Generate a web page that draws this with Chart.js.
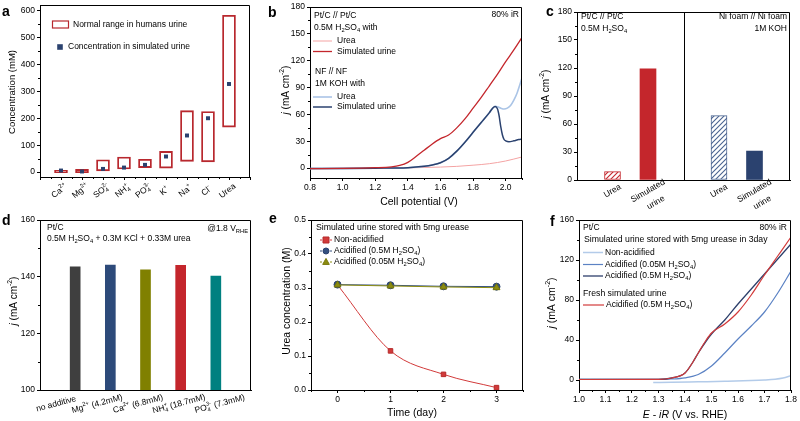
<!DOCTYPE html>
<html>
<head>
<meta charset="utf-8">
<title>Urine electrolysis panels</title>
<script src="https://cdn.jsdelivr.net/npm/chart.js@4.4.1/dist/chart.umd.min.js"></script>
<style>
  body { margin: 0; background: #fff; }
  #fig { position: relative; width: 800px; height: 421px; overflow: hidden; background: #fff; }
  #fig canvas { position: absolute; }
</style>
</head>
<body>
<div id="fig">
  <canvas id="pa" width="265" height="212" style="left:0;top:0"></canvas>
  <canvas id="pb" width="265" height="212" style="left:265px;top:0"></canvas>
  <canvas id="pc" width="270" height="218" style="left:530px;top:0"></canvas>
  <canvas id="pd" width="265" height="216" style="left:0;top:205px"></canvas>
  <canvas id="pe" width="265" height="216" style="left:265px;top:205px"></canvas>
  <canvas id="pf" width="270" height="216" style="left:530px;top:205px"></canvas>
</div>
<script>
// ---- data ----
// a: normal range vs simulated urine (mM)
var aLabels = ['Ca^{2+}', 'Mg^{2+}', 'SO_{4}^{2-}', 'NH_{4}^{+}', 'PO_{4}^{3-}', 'K^{+}', 'Na^{+}', 'Cl^{-}', 'Urea'];
var aRangeLow = [-2, -2, 5, 12, 17, 15, 40, 38, 167];
var aRangeHigh = [7, 10, 46, 56, 48, 77, 228, 225, 582];
var aSimulated = [6, 2.5, 12, 17, 27, 58, 136, 200, 327];

// b: cell polarisation curves
var bAcidUreaX = [0.8, 1.0, 1.2, 1.4, 1.6, 1.7, 1.8, 1.9, 2.0, 2.1];
var bAcidUrea = [-0.5, -0.3, 0, 0.3, 1.2, 2, 3.3, 5, 8, 12.5];
var bAcidSimX = [0.8, 1.0, 1.2, 1.3, 1.35, 1.4, 1.45, 1.5, 1.55, 1.6, 1.65, 1.7, 1.75, 1.8, 1.85, 1.9, 1.95, 2.0, 2.05, 2.1];
var bAcidSim = [-0.5, -0.3, 0.5, 1.5, 3, 6.5, 13, 20, 27, 33, 37, 45, 55, 67, 79, 92, 105, 119, 132, 146];
var bAlkUreaX = [0.8, 1.0, 1.2, 1.4, 1.5, 1.55, 1.6, 1.65, 1.7, 1.75, 1.8, 1.85, 1.9, 1.92, 1.935, 1.95, 1.97, 1.99, 2.01, 2.03, 2.05, 2.07, 2.09, 2.1];
var bAlkUrea = [-0.5, -0.3, 0, 0.5, 2, 3.5, 6, 11, 19, 29, 40, 51, 62, 67, 69, 68.5, 67, 66, 67, 70, 76, 84, 95, 101];
var bAlkSimX = [0.8, 1.0, 1.2, 1.4, 1.5, 1.55, 1.6, 1.65, 1.7, 1.75, 1.8, 1.85, 1.9, 1.92, 1.935, 1.95, 1.96, 1.97, 1.98, 1.99, 2.0, 2.02, 2.05, 2.08, 2.1];
var bAlkSim = [-0.5, -0.3, 0, 0.5, 2, 3.5, 6, 11, 19, 29, 40, 51, 62, 67, 69, 66, 58, 46, 37, 32, 30.5, 29.5, 30.5, 32, 32.5];

// c: current at fixed cell voltage
var cLabels = ['Urea', 'Simulated\nurine', 'Urea', 'Simulated\nurine'];
var cValues = [9, 119, 69, 31];

// d: effect of additives at 1.8 V RHE
var dLabels = ['no additive', 'Mg^{2+} (4.2mM)', 'Ca^{2+} (6.8mM)', 'NH_{4}^{+} (18.7mM)', 'PO_{4}^{3-} (7.3mM)'];
var dValues = [143.5, 144.1, 142.4, 144.0, 140.2];

// e: urea concentration during storage
var eDays = [0, 1, 2, 3];
var eNonAcid = [0.309, 0.115, 0.046, 0.007];
var eAcid05 = [0.310, 0.308, 0.305, 0.304];
var eAcid005 = [0.309, 0.306, 0.303, 0.301];

// f: LSV after 3 days storage
var fNonX = [1.28, 1.35, 1.45, 1.55, 1.65, 1.7, 1.74, 1.77, 1.8];
var fNon = [-2.6, -2.3, -1.8, -1.3, -0.6, 0, 0.8, 2, 4.2];
var fAcid005X = [1.0, 1.3, 1.35, 1.4, 1.45, 1.5, 1.55, 1.6, 1.65, 1.7, 1.75, 1.8];
var fAcid005 = [0.7, 0.7, 1, 2.2, 5.5, 14, 27, 41, 54, 68, 87, 109];
var fAcid05X = [1.0, 1.3, 1.35, 1.4, 1.43, 1.45, 1.48, 1.5, 1.55, 1.6, 1.65, 1.7, 1.75, 1.8];
var fAcid05 = [0.7, 0.7, 2, 7, 18, 27, 39, 46, 60, 76, 91, 106, 121, 136];
var fFreshX = [1.0, 1.3, 1.35, 1.4, 1.43, 1.45, 1.48, 1.5, 1.55, 1.6, 1.65, 1.7, 1.75, 1.8];
var fFresh = [0.5, 0.6, 2, 7, 18, 27, 40, 47, 56, 68, 85, 105, 124, 143];

// ---- setup ----
var FONT = '"Liberation Sans", Arial, Helvetica, sans-serif';
Chart.defaults.font.family = FONT;
Chart.defaults.font.size = 8.5;
Chart.defaults.color = '#000';
Chart.defaults.animation = false;
Chart.defaults.plugins.legend.display = false;
Chart.defaults.plugins.tooltip.enabled = false;

var RED = '#c4262c', LRED = '#f4a3a3', NAVY = '#2b426f', LBLUE = '#aac4e6', MBLUE = '#5b82c4';

function pts(xs, ys) { return xs.map(function (x, i) { return { x: x, y: ys[i] }; }); }
function fix1(v) { return (+v).toFixed(1); }

// text with _{sub}, ^{sup}, ~{italic}
function drawRich(ctx, str, x, y, size, align) {
  var parts = [], re = /([_^~])\{([^}]*)\}/g, last = 0, m;
  while ((m = re.exec(str))) {
    if (m.index > last) parts.push({ t: str.slice(last, m.index), k: '' });
    parts.push({ t: m[2], k: m[1] });
    last = re.lastIndex;
  }
  if (last < str.length) parts.push({ t: str.slice(last), k: '' });
  function font(k) {
    var small = k === '_' || k === '^';
    return (k === '~' ? 'italic ' : '') + (small ? size * 0.68 : size) + 'px ' + FONT;
  }
  var w = 0, prev = null;
  parts.forEach(function (p) {
    ctx.font = font(p.k);
    p.w = ctx.measureText(p.t).width;
    if (p.k === '^' && prev && prev.k === '_') { p.stack = true; w += Math.max(0, p.w - prev.w); }
    else w += p.w;
    prev = p;
  });
  var cx = align === 'center' ? x - w / 2 : align === 'right' ? x - w : x;
  ctx.textAlign = 'left';
  ctx.textBaseline = 'middle';
  prev = null;
  parts.forEach(function (p) {
    ctx.font = font(p.k);
    var dy = p.k === '_' ? size * 0.32 : p.k === '^' ? -size * 0.36 : 0;
    if (p.stack) {
      cx -= prev.w;
      ctx.fillText(p.t, cx, y + dy);
      cx += Math.max(p.w, prev.w);
    } else {
      ctx.fillText(p.t, cx, y + dy);
      cx += p.w;
    }
    prev = p;
  });
}

function marker(ctx, style, x, y, r, fill, stroke) {
  ctx.beginPath();
  if (style === 'rect') ctx.rect(x - r, y - r, 2 * r, 2 * r);
  else if (style === 'triangle') { ctx.moveTo(x, y - r * 1.2); ctx.lineTo(x + r * 1.1, y + r * 0.8); ctx.lineTo(x - r * 1.1, y + r * 0.8); ctx.closePath(); }
  else ctx.arc(x, y, r, 0, Math.PI * 2);
  ctx.fillStyle = fill;
  ctx.fill();
  if (stroke) { ctx.strokeStyle = stroke; ctx.lineWidth = 1; ctx.stroke(); }
}

function minor(ctx, scale, step, len) {
  var majors = scale.ticks.map(function (t) { return t.value; });
  var start = Math.ceil(scale.min / step - 1e-9) * step;
  ctx.beginPath();
  for (var v = start; v <= scale.max + 1e-9; v += step) {
    if (majors.some(function (mv) { return Math.abs(mv - v) < step * 1e-3; })) continue;
    var p = Math.round(scale.getPixelForValue(v)) + 0.5;
    if (scale.isHorizontal()) { ctx.moveTo(p, scale.top); ctx.lineTo(p, scale.top + len); }
    else { ctx.moveTo(scale.right, p); ctx.lineTo(scale.right - len, p); }
  }
  ctx.stroke();
}

// frame, minor ticks, texts, legends, panel letter
function deco(cfg) {
  return {
    id: 'deco',
    afterDraw: function (chart) {
      var ctx = chart.ctx, A = chart.chartArea, xs = chart.scales.x, ys = chart.scales.y;
      ctx.save();
      ctx.strokeStyle = '#000';
      ctx.lineWidth = 1;
      var t = Math.round(A.top) + 0.5, r = Math.round(A.right) - 0.5;
      ctx.beginPath(); ctx.moveTo(A.left, t); ctx.lineTo(r, t); ctx.lineTo(r, A.bottom); ctx.stroke();
      if (cfg.minorX) minor(ctx, xs, cfg.minorX, 2);
      if (cfg.minorY) minor(ctx, ys, cfg.minorY, 2);
      (cfg.dividers || []).forEach(function (v) {
        var p = Math.round(xs.getPixelForValue(v)) + 0.5;
        ctx.beginPath(); ctx.moveTo(p, A.top); ctx.lineTo(p, A.bottom); ctx.stroke();
      });
      ctx.fillStyle = '#000';
      if (cfg.xLabels) {
        var L = cfg.xLabels;
        chart.data.labels.forEach(function (lab, i) {
          if (!lab) return;
          var px = xs.getPixelForValue(i) + (L.dx ? L.dx(i) : 0);
          ctx.save();
          ctx.translate(px, A.bottom + L.dy);
          ctx.rotate(-L.rot * Math.PI / 180);
          lab.split('\n').forEach(function (line, j) {
            ctx.fillStyle = '#000';
            drawRich(ctx, line, (j ? L.lineDx || 0 : 0), j * (L.lineH || 12), L.size, 'center');
          });
          ctx.restore();
        });
      }
      if (cfg.yTitle) {
        ctx.save();
        ctx.translate(cfg.yTitle.x, cfg.yTitle.y);
        ctx.rotate(-Math.PI / 2);
        ctx.fillStyle = '#000';
        drawRich(ctx, cfg.yTitle.t, 0, 0, cfg.yTitle.size, 'center');
        ctx.restore();
      }
      if (cfg.xTitle) {
        ctx.fillStyle = '#000';
        drawRich(ctx, cfg.xTitle.t, cfg.xTitle.x, cfg.xTitle.y, cfg.xTitle.size, 'center');
      }
      (cfg.texts || []).forEach(function (s) {
        ctx.fillStyle = '#000';
        drawRich(ctx, s.t, s.x, s.y, s.size || 8.5, s.align || 'left');
      });
      (cfg.legend || []).forEach(function (it) {
        var ds = chart.data.datasets[it.ds];
        if (it.kind === 'box') {
          ctx.strokeStyle = ds.borderColor; ctx.lineWidth = 1.2;
          ctx.strokeRect(it.x1 + 0.5, it.y - 3.5, it.x2 - it.x1, 7);
        } else if (it.kind === 'dot') {
          marker(ctx, ds.pointStyle, (it.x1 + it.x2) / 2, it.y, ds.pointRadius, ds.backgroundColor);
        } else {
          ctx.strokeStyle = ds.borderColor;
          ctx.lineWidth = ds.borderWidth || 1;
          var mx = (it.x1 + it.x2) / 2;
          ctx.beginPath();
          if (it.marker) {
            ctx.moveTo(it.x1, it.y); ctx.lineTo(mx - 4, it.y);
            ctx.moveTo(mx + 4, it.y); ctx.lineTo(it.x2, it.y);
          } else { ctx.moveTo(it.x1, it.y); ctx.lineTo(it.x2, it.y); }
          ctx.stroke();
          if (it.marker) marker(ctx, ds.pointStyle, mx, it.y, 3, ds.backgroundColor, ds.pointBorderColor);
        }
        ctx.fillStyle = '#000';
        drawRich(ctx, ds.label, it.tx, it.y, it.size || 8.5, 'left');
      });
      if (cfg.letter) {
        ctx.font = 'bold 14px ' + FONT;
        ctx.textAlign = 'left';
        ctx.textBaseline = 'alphabetic';
        ctx.fillStyle = '#000';
        ctx.fillText(cfg.letter.t, cfg.letter.x, cfg.letter.y);
      }
      ctx.restore();
    }
  };
}

function yLin(min, max, step, width, fmt) {
  return {
    type: 'linear', min: min, max: max,
    border: { color: '#000', width: 1 },
    grid: { drawOnChartArea: false, tickLength: 3, color: '#000' },
    ticks: { stepSize: step, includeBounds: false, padding: 2, callback: fmt || function (v) { return v; } },
    afterFit: function (s) { s.width = width; s.paddingTop = 0; s.paddingBottom = 0; }
  };
}
function xLin(min, max, step, height, fmt, tickValues) {
  var sc = {
    type: 'linear', min: min, max: max,
    border: { color: '#000', width: 1 },
    grid: { drawOnChartArea: false, tickLength: 3, color: '#000' },
    ticks: { stepSize: step, includeBounds: false, padding: 2, maxRotation: 0, autoSkip: false, callback: fmt || function (v) { return v; } },
    afterFit: function (s) { s.height = height; s.paddingLeft = 0; s.paddingRight = 0; }
  };
  if (tickValues) {
    sc.afterBuildTicks = function (s) { s.ticks = tickValues.map(function (v) { return { value: v }; }); };
  }
  return sc;
}
function xCat(height, drawTicks) {
  return {
    type: 'category', offset: false,
    border: { color: '#000', width: 1 },
    grid: { offset: false, drawOnChartArea: false, drawTicks: drawTicks, tickLength: 3, color: '#000' },
    ticks: { display: false, autoSkip: false },
    afterFit: function (s) { s.height = height; s.paddingLeft = 0; s.paddingRight = 0; }
  };
}
function hatch(color) {
  var c = document.createElement('canvas');
  c.width = 5; c.height = 5;
  var g = c.getContext('2d');
  g.fillStyle = '#fff'; g.fillRect(0, 0, 5, 5);
  g.strokeStyle = color; g.lineWidth = 1.1;
  g.beginPath();
  g.moveTo(0, 5); g.lineTo(5, 0);
  g.moveTo(-1, 1); g.lineTo(1, -1);
  g.moveTo(4, 6); g.lineTo(6, 4);
  g.stroke();
  return g.createPattern(c, 'repeat');
}

// ---- panel a ----
var aFull = [''].concat(aLabels, ['']);
new Chart(document.getElementById('pa'), {
  type: 'bar',
  data: {
    labels: aFull,
    datasets: [{
      label: 'Normal range in humans urine',
      data: [null].concat(aRangeLow.map(function (l, i) { return [l, aRangeHigh[i]]; }), [null]),
      backgroundColor: 'rgba(255,255,255,0)', borderColor: '#b8282e', borderWidth: 1.2,
      borderSkipped: false, barThickness: 13, grouped: false, order: 2
    }, {
      type: 'line', label: 'Concentration in simulated urine',
      data: [null].concat(aSimulated, [null]),
      showLine: false, pointStyle: 'rect', pointRadius: 2.8, backgroundColor: NAVY,
      borderColor: NAVY, pointBorderWidth: 0, order: 1
    }]
  },
  options: {
    responsive: false,
    layout: { padding: { top: 5, right: 15, left: 0, bottom: 0 } },
    scales: { x: xCat(35, true), y: yLin(-18, 620, 100, 40) }
  },
  plugins: [deco({
    minorY: 50, minorX: 0.5,
    xLabels: { rot: 38, dy: 14, size: 8.5, dx: function () { return -1.5; } },
    yTitle: { t: 'Concentration (mM)', x: 12, y: 92, size: 9.5 },
    legend: [
      { ds: 0, kind: 'box', x1: 52, x2: 68, y: 24.5, tx: 73 },
      { ds: 1, kind: 'dot', x1: 57, x2: 63, y: 47, tx: 68 }
    ],
    letter: { t: 'a', x: 2, y: 16 }
  })]
});

// ---- panel b ----
new Chart(document.getElementById('pb'), {
  type: 'line',
  data: {
    datasets: [
      { label: 'Urea', data: pts(bAcidUreaX, bAcidUrea), borderColor: LRED, borderWidth: 1, order: 4 },
      { label: 'Simulated urine', data: pts(bAcidSimX, bAcidSim), borderColor: RED, borderWidth: 1.3, order: 1 },
      { label: 'Urea', data: pts(bAlkUreaX, bAlkUrea), borderColor: LBLUE, borderWidth: 1.6, order: 3 },
      { label: 'Simulated urine', data: pts(bAlkSimX, bAlkSim), borderColor: NAVY, borderWidth: 1.5, order: 2 }
    ]
  },
  options: {
    responsive: false,
    elements: { point: { radius: 0 }, line: { cubicInterpolationMode: 'monotone' } },
    layout: { padding: { top: 7, right: 8, left: 0, bottom: 0 } },
    scales: { x: xLin(0.8, 2.1, 0.2, 34, fix1), y: yLin(-11, 180, 30, 45) }
  },
  plugins: [deco({
    minorX: 0.1, minorY: 15,
    yTitle: { t: '~{j} (mA cm^{-2})', x: 21, y: 90, size: 10 },
    xTitle: { t: 'Cell potential (V)', x: 154, y: 202, size: 10.5 },
    texts: [
      { t: 'Pt/C // Pt/C', x: 49, y: 16 },
      { t: '0.5M H_{2}SO_{4} with', x: 49, y: 28 },
      { t: 'NF // NF', x: 50, y: 72 },
      { t: '1M KOH with', x: 50, y: 83.5 },
      { t: '80% iR', x: 254, y: 15, align: 'right' }
    ],
    legend: [
      { ds: 0, x1: 48, x2: 67, y: 41, tx: 72 },
      { ds: 1, x1: 48, x2: 67, y: 51.5, tx: 72 },
      { ds: 2, x1: 48, x2: 67, y: 97, tx: 72 },
      { ds: 3, x1: 48, x2: 67, y: 107, tx: 72 }
    ],
    letter: { t: 'b', x: 3, y: 17 }
  })]
});

// ---- panel c ----
var cFull = ['', cLabels[0], cLabels[1], '', cLabels[2], cLabels[3], ''];
var hatchRed = hatch(RED), hatchNavy = hatch('#4a6390');
new Chart(document.getElementById('pc'), {
  type: 'bar',
  data: {
    labels: cFull,
    datasets: [{
      label: 'j',
      data: [null, cValues[0], cValues[1], null, cValues[2], cValues[3], null],
      backgroundColor: [null, hatchRed, RED, null, hatchNavy, NAVY, null],
      borderColor: [null, RED, RED, null, '#4a6390', NAVY, null],
      borderWidth: [0, 1, 0, 0, 1, 0, 0],
      borderSkipped: false, barThickness: 16
    }]
  },
  options: {
    responsive: false,
    layout: { padding: { top: 12, right: 10, left: 0, bottom: 0 } },
    scales: { x: xCat(38, false), y: yLin(0, 180, 30, 47) }
  },
  plugins: [deco({
    minorY: 15, dividers: [3],
    xLabels: { rot: 30, dy: 11, size: 8.5, lineH: 14, lineDx: 1 },
    yTitle: { t: '~{j} (mA cm^{-2})', x: 16, y: 94, size: 10 },
    texts: [
      { t: 'Pt/C // Pt/C', x: 51, y: 17 },
      { t: '0.5M H_{2}SO_{4}', x: 51, y: 29 },
      { t: 'Ni foam // Ni foam', x: 257, y: 17, align: 'right' },
      { t: '1M KOH', x: 257, y: 29, align: 'right' }
    ],
    letter: { t: 'c', x: 16, y: 16 }
  })]
});

// ---- panel d ----
var dColors = ['#3f3f3f', '#2d4a7a', '#808000', RED, '#008080'];
new Chart(document.getElementById('pd'), {
  type: 'bar',
  data: {
    labels: [''].concat(dLabels, ['']),
    datasets: [{
      label: 'j',
      data: [null].concat(dValues, [null]),
      backgroundColor: [null].concat(dColors, [null]),
      barThickness: 10
    }]
  },
  options: {
    responsive: false,
    layout: { padding: { top: 15, right: 14, left: 0, bottom: 0 } },
    scales: { x: xCat(31, false), y: yLin(100, 160, 20, 40) }
  },
  plugins: [deco({
    minorY: 10,
    xLabels: { rot: 15, dy: 14, size: 8.5, dx: function (i) { return -19 + 5.75 * (i - 1); } },
    yTitle: { t: '~{j} (mA cm^{-2})', x: 14, y: 96, size: 10 },
    texts: [
      { t: 'Pt/C', x: 47, y: 23 },
      { t: '0.5M H_{2}SO_{4} + 0.3M KCl + 0.33M urea', x: 47, y: 33.5 },
      { t: '@1.8 V_{RHE}', x: 248, y: 24, align: 'right' }
    ],
    letter: { t: 'd', x: 2, y: 20 }
  })]
});

// ---- panel e ----
new Chart(document.getElementById('pe'), {
  type: 'line',
  data: {
    datasets: [
      { label: 'Non-acidified', data: pts(eDays, eNonAcid), borderColor: '#d23a3a', backgroundColor: '#d23a3a',
        pointBorderColor: '#b52a2a', pointStyle: 'rect', pointRadius: 3.2, borderWidth: 1,
        cubicInterpolationMode: 'monotone', order: 3 },
      { label: 'Acidified (0.5M H_{2}SO_{4})', data: pts(eDays, eAcid05), borderColor: '#34507f', backgroundColor: '#34507f',
        pointBorderColor: '#2b426f', pointStyle: 'circle', pointRadius: 3.5, borderWidth: 1, order: 2 },
      { label: 'Acidified (0.05M H_{2}SO_{4})', data: pts(eDays, eAcid005), borderColor: '#8c8c10', backgroundColor: '#8c8c10',
        pointBorderColor: '#77770a', pointStyle: 'triangle', pointRadius: 4, borderWidth: 1, order: 1 }
    ]
  },
  options: {
    responsive: false,
    layout: { padding: { top: 15, right: 7, left: 0, bottom: 0 } },
    scales: { x: xLin(-0.5, 3.5, 1, 31, null, eDays), y: yLin(0, 0.5, 0.1, 46, fix1) }
  },
  plugins: [deco({
    minorX: 0.5, minorY: 0.05,
    yTitle: { t: 'Urea concentration (M)', x: 22, y: 96, size: 10.5 },
    xTitle: { t: 'Time (day)', x: 147, y: 208, size: 10.5 },
    texts: [{ t: 'Simulated urine stored with 5mg urease', x: 51, y: 23, size: 8.7 }],
    legend: [
      { ds: 0, x1: 55, x2: 67, y: 35, tx: 69, marker: true },
      { ds: 1, x1: 55, x2: 67, y: 46, tx: 69, marker: true },
      { ds: 2, x1: 55, x2: 67, y: 57, tx: 69, marker: true }
    ],
    letter: { t: 'e', x: 4, y: 18 }
  })]
});

// ---- panel f ----
new Chart(document.getElementById('pf'), {
  type: 'line',
  data: {
    datasets: [
      { label: 'Non-acidified', data: pts(fNonX, fNon), borderColor: '#b3cbe9', borderWidth: 1.5, order: 4 },
      { label: 'Acidified (0.05M H_{2}SO_{4})', data: pts(fAcid005X, fAcid005), borderColor: MBLUE, borderWidth: 1.2, order: 3 },
      { label: 'Acidified (0.5M H_{2}SO_{4})', data: pts(fAcid05X, fAcid05), borderColor: '#2d3f6b', borderWidth: 1.3, order: 2 },
      { label: 'Acidified (0.5M H_{2}SO_{4})', data: pts(fFreshX, fFresh), borderColor: '#d23a3a', borderWidth: 1.2, order: 1 }
    ]
  },
  options: {
    responsive: false,
    elements: { point: { radius: 0 }, line: { cubicInterpolationMode: 'monotone' } },
    layout: { padding: { top: 15, right: 9, left: 0, bottom: 0 } },
    scales: { x: xLin(1.0, 1.8, 0.1, 31, fix1), y: yLin(-10, 160, 40, 49) }
  },
  plugins: [deco({
    minorX: 0.05, minorY: 20,
    yTitle: { t: '~{j} (mA cm^{-2})', x: 22, y: 98, size: 10.5 },
    xTitle: { t: '~{E} - ~{iR} (V vs. RHE)', x: 155, y: 210, size: 10.5 },
    texts: [
      { t: 'Pt/C', x: 53, y: 23 },
      { t: '80% iR', x: 257, y: 23, align: 'right' },
      { t: 'Simulated urine stored with 5mg urease in 3day', x: 54, y: 35, size: 8.7 },
      { t: 'Fresh simulated urine', x: 53, y: 89, size: 8.7 }
    ],
    legend: [
      { ds: 0, x1: 53, x2: 73, y: 47.5, tx: 75 },
      { ds: 1, x1: 53, x2: 73, y: 59.5, tx: 75 },
      { ds: 2, x1: 53, x2: 73, y: 71, tx: 75 },
      { ds: 3, x1: 53, x2: 74, y: 100, tx: 76 }
    ],
    letter: { t: 'f', x: 20, y: 21 }
  })]
});
</script>
</body>
</html>
